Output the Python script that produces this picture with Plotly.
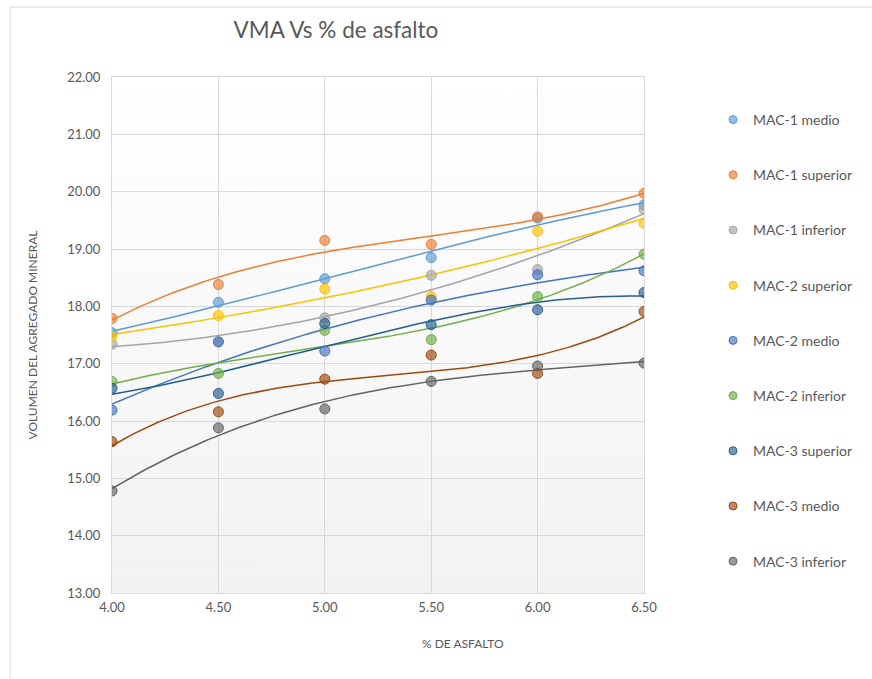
import base64
import numpy as np
import plotly.graph_objects as go

# ---------------- data ----------------
asfalto = [4.0, 4.5, 5.0, 5.5, 6.0, 6.5]

series_names = [
    "MAC-1 medio", "MAC-1 superior", "MAC-1 inferior",
    "MAC-2 superior", "MAC-2 medio", "MAC-2 inferior",
    "MAC-3 superior", "MAC-3 medio", "MAC-3 inferior",
]

mac1_medio = [17.54, 18.07, 18.48, 18.85, 19.54, 19.77]
mac1_superior = [17.79, 18.38, 19.15, 19.08, 19.56, 19.97]
mac1_inferior = [17.34, 17.38, 17.80, 18.54, 18.64, 19.69]
mac2_superior = [17.48, 17.84, 18.30, 18.17, 19.31, 19.45]
mac2_medio = [16.19, 17.38, 17.22, 18.11, 18.55, 18.62]
mac2_inferior = [16.69, 16.83, 17.58, 17.42, 18.17, 18.91]
mac3_superior = [16.57, 16.48, 17.70, 17.68, 17.94, 18.24]
mac3_medio = [15.64, 16.16, 16.73, 17.15, 16.83, 17.91]
mac3_inferior = [14.78, 15.88, 16.21, 16.69, 16.96, 17.01]

series_values = [
    mac1_medio, mac1_superior, mac1_inferior,
    mac2_superior, mac2_medio, mac2_inferior,
    mac3_superior, mac3_medio, mac3_inferior,
]

y_ticks = [13, 14, 15, 16, 17, 18, 19, 20, 21, 22]
x_ticks = [4.0, 4.5, 5.0, 5.5, 6.0, 6.5]

# ---------------- style ----------------
colors = ["#5B9BD5", "#ED7D31", "#A5A5A5", "#FFC000", "#4472C4",
          "#70AD47", "#255E91", "#9E480E", "#636363"]


def rgba(hexc, a):
    h = hexc.lstrip("#")
    r, g, b = int(h[0:2], 16), int(h[2:4], 16), int(h[4:6], 16)
    return f"rgba({r},{g},{b},{a})"


W, H = 872, 679
L, R, T, B = 112, 644, 77, 593
FONT = "Lato, 'Open Sans', sans-serif"
GRAY = "#595959"

fig = go.Figure()

# trendlines (polynomial, order 3) drawn first
xs = np.linspace(min(asfalto), max(asfalto), 200)
for name, vals, c in zip(series_names, series_values, colors):
    coef = np.polyfit(asfalto, vals, 3)
    fig.add_trace(go.Scatter(
        x=xs, y=np.polyval(coef, xs), mode="lines",
        line=dict(color=c, width=1.5), showlegend=False,
        legendgroup=name, hoverinfo="skip"))

for name, vals, c in zip(series_names, series_values, colors):
    fig.add_trace(go.Scatter(
        x=asfalto, y=vals, mode="markers", name=name, legendgroup=name,
        showlegend=False,
        marker=dict(size=10, color=rgba(c, 0.65), line=dict(color=c, width=1))))

# legend entries with the smaller Excel-style legend marker
for name, c in zip(series_names, colors):
    fig.add_trace(go.Scatter(
        x=[None], y=[None], mode="markers", name=name, legendgroup=name,
        marker=dict(size=8, color=rgba(c, 0.65), line=dict(color=c, width=1))))

# gradient background for plot area via svg image
svg = ('<svg xmlns="http://www.w3.org/2000/svg" width="100" height="100" preserveAspectRatio="none">'
       '<defs><linearGradient id="g" x1="0" y1="0" x2="0" y2="1">'
       '<stop offset="0" stop-color="#FFFFFF"/><stop offset="1" stop-color="#F2F2F2"/>'
       '</linearGradient></defs><rect width="100" height="100" fill="url(#g)"/></svg>')
src = "data:image/svg+xml;base64," + base64.b64encode(svg.encode()).decode()

pw, ph = R - L, B - T


def px_x(p):
    return (p - L) / pw


def px_y(p):
    return (B - p) / ph


fig.update_layout(
    width=W, height=H,
    margin=dict(l=L, r=W - R, t=T, b=H - B, pad=0),
    paper_bgcolor="white", plot_bgcolor="rgba(0,0,0,0)",
    font=dict(family=FONT, color=GRAY, size=13),
    title=dict(text="VMA Vs % de asfalto", x=336 / W, xanchor="center",
               y=1 - 30 / H, yanchor="middle",
               font=dict(family=FONT, size=22.5, color=GRAY)),
    images=[dict(source=src, xref="paper", yref="paper", x=0, y=1,
                 sizex=1, sizey=1, sizing="stretch", layer="below",
                 xanchor="left", yanchor="top")],
    xaxis=dict(range=[4.0, 6.5], tickvals=x_ticks, tickformat=".2f",
               showgrid=True, gridcolor="#D9D9D9", gridwidth=1,
               zeroline=False, showline=True, linecolor="#D9D9D9",
               mirror=True, ticks="", tickfont=dict(size=13, color=GRAY),
               ticklabelstandoff=2),
    yaxis=dict(range=[13, 22], tickvals=y_ticks, tickformat=".2f",
               showgrid=True, gridcolor="#D9D9D9", gridwidth=1,
               zeroline=False, showline=True, linecolor="#D9D9D9",
               mirror=True, ticks="", tickfont=dict(size=13, color=GRAY),
               ticklabelstandoff=8,
               title=dict(text="VOLUMEN DEL AGREGADO MINERAL",
                          font=dict(size=12, color=GRAY), standoff=26)),
    annotations=[dict(text="% DE ASFALTO", xref="paper", yref="paper",
                      x=px_x(463), y=px_y(643), xanchor="center", yanchor="middle",
                      showarrow=False, font=dict(size=12, color=GRAY))],
    legend=dict(x=px_x(713), y=px_y(104), xanchor="left", yanchor="top",
                tracegroupgap=34, traceorder="grouped",
                font=dict(size=14, color=GRAY), bgcolor="rgba(0,0,0,0)"),
    shapes=[dict(type="rect", xref="paper", yref="paper",
                 x0=px_x(10), x1=px_x(W + 20), y0=px_y(H + 20), y1=px_y(7),
                 line=dict(color="#D9D9D9", width=1), fillcolor="rgba(0,0,0,0)",
                 layer="below")],
)

fig.write_html("out.html", config={"displayModeBar": False},
               post_script="document.body.style.margin='0';document.body.style.padding='0';")
